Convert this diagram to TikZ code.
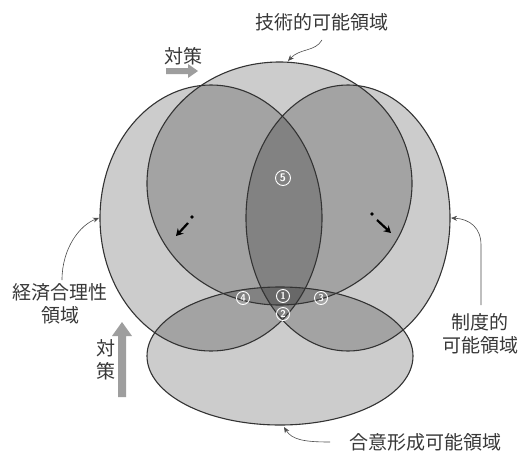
\documentclass[tikz,border=0pt]{standalone}
\usepackage{fontspec}
\newfontfamily\jp{Noto Sans CJK JP}
\usetikzlibrary{arrows.meta}
\begin{document}
\begin{tikzpicture}[x=1pt,y=-1pt,
  region/.style={fill=black,fill opacity=0.2},
  rim/.style={draw=black!80,line width=1.1pt},
  lbl/.style={font=\jp\fontsize{19}{23}\selectfont,text=black!78,inner sep=0pt,align=center},
  num/.style={circle,draw=white,text=white,line width=0.9pt,inner sep=0pt,minimum size=13pt,font=\sffamily\bfseries\fontsize{10}{10}\selectfont},
  lead/.style={draw=black!70,line width=0.6pt,-{Stealth[length=6pt,width=5pt]}},
  blk/.style={draw=black,line width=2.2pt,-{Stealth[length=7pt,width=8pt]}},
  grayarrow/.style={fill=black!38}
]
\useasboundingbox (0,0) rectangle (521,452);
\fill[white] (0,0) rectangle (521,452);

% regions
\path[region] (211,218) ellipse [x radius=111, y radius=133];
\path[region] (348,218) ellipse [x radius=102, y radius=133];
\path[region] (279.5,183.5) ellipse [x radius=132.5, y radius=121.5];
\path[region] (280,356) ellipse [x radius=133, y radius=69];

\draw[rim] (211,218) ellipse [x radius=111, y radius=133];
\draw[rim] (348,218) ellipse [x radius=102, y radius=133];
\draw[rim] (279.5,183.5) ellipse [x radius=132.5, y radius=121.5];
\draw[rim] (280,356) ellipse [x radius=133, y radius=69];

% numbered regions
\node[num,minimum size=15pt,font=\sffamily\bfseries\fontsize{11}{11}\selectfont] (n5) at (283,178) {5};
\node[num] (n4) at (243,298) {4};
\node[num] (n1) at (283,296) {1};
\node[num] (n3) at (321,298) {3};
\node[num] (n2) at (283,314) {2};

% small black arrows
\fill[black] (192,217) circle (1.8pt);
\coordinate (la1) at (188,223);
\coordinate (la2) at (176,236);
\draw[blk] (la1) -- (la2);
\fill[black] (372,214) circle (1.8pt);
\coordinate (ra1) at (377,220);
\coordinate (ra2) at (391,233);
\draw[blk] (ra1) -- (ra2);

% gray block arrows (対策)
\fill[grayarrow] (166,68) -- (188,68) -- (188,64) -- (198,71) -- (188,78) -- (188,74) -- (166,74) -- cycle;
\fill[grayarrow] (118,397) -- (118,336) -- (112,336) -- (122,322) -- (132,336) -- (126,336) -- (126,397) -- cycle;

% labels
\node[lbl] (tech) at (322,22) {技術的可能領域};
\node[lbl] (taisaku1) at (183,56) {対策};
\node[lbl] (econ) at (60,304) {経済合理性\\領域};
\node[lbl] (taisaku2) at (106,360) {対\\策};
\node[lbl] (inst) at (480,334) {制度的\\可能領域};
\node[lbl] (agree) at (425,442) {合意形成可能領域};

% leader lines
\coordinate (techA) at (322,40);
\coordinate (techB) at (288,61);
\draw[lead] (techA) .. controls (315,52) and (300,48) .. (techB);
\coordinate (econA) at (62,280);
\coordinate (econB) at (99,218);
\draw[lead] (econA) .. controls (62,248) and (80,225) .. (econB);
\coordinate (instA) at (481,305);
\coordinate (instB) at (451,218);
\draw[lead] (instA) -- (481,245) .. controls (481,228) and (470,219) .. (instB);
\coordinate (agreeA) at (330,442);
\coordinate (agreeB) at (284,427);
\draw[lead] (agreeA) .. controls (305,442) and (292,440) .. (agreeB);
\end{tikzpicture}
\end{document}
